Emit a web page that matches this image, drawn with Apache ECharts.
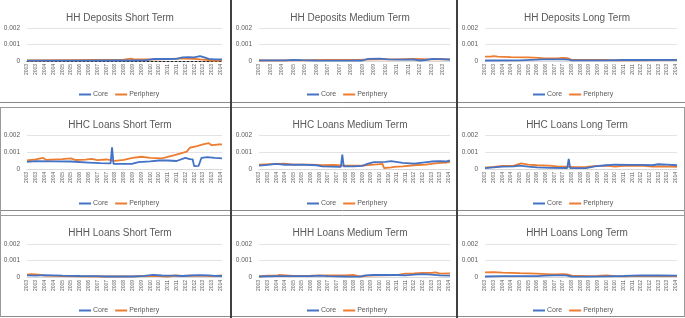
<!DOCTYPE html>
<html>
<head>
<meta charset="utf-8">
<script src="https://cdn.jsdelivr.net/npm/echarts@6/dist/echarts.min.js"></script>
<style>
  html, body { margin: 0; padding: 0; background: #fff; }
  #main { width: 685px; height: 318px; }
</style>
</head>
<body>
<div id="main"></div>
<script type="text/javascript">
    // values below are in units of 0.0001, as [month index from Jan 2003, value]
    var SCALE = 1e-4;

    var titles = [
        'HH Deposits Short Term', 'HH Deposits Medium Term', 'HH Deposits Long Term',
        'HHC Loans Short Term', 'HHC Loans Medium Term', 'HHC Loans Long Term',
        'HHH Loans Short Term', 'HHH Loans Medium Term', 'HHH Loans Long Term'
    ];

    // months Jan 2003 .. Feb 2014, shown as the year only
    var months = [];
    for (var y = 2003; y <= 2014; y++) {
        for (var m = 1; m <= 12; m++) {
            if (y === 2014 && m > 2) break;
            months.push(y + '-' + (m < 10 ? '0' + m : m));
        }
    }
    // every n-th month gets a label (Excel picked 6 for most panels, 8 for one)
    var labelStep = [6, 8, 6, 6, 6, 6, 6, 6, 6];

    var hhDepShortCore = [[0,0.2],[36,0.2],[60,0.3],[80,0.4],[86,1.2],[96,1.2],[102,1.3],[106,2.2],[110,2.4],[114,2.2],[118,3.0],[121,2.2],[124,1.3],[128,1.0],[133,1.0]];
    var hhDepShortPeri = [[0,0.3],[24,0.5],[48,0.7],[66,0.8],[71,1.4],[74,0.9],[84,0.9],[96,1.1],[102,1.5],[108,1.4],[114,1.3],[118,1.0],[124,0.6],[128,0.3],[133,0.4]];

    var hhDepMedCore = [[0,0.4],[18,0.4],[24,0.7],[30,0.5],[40,0.3],[60,0.2],[72,0.3],[76,1.3],[84,1.5],[90,1.0],[100,0.8],[108,0.9],[112,0.3],[116,0.6],[120,1.2],[126,1.1],[133,0.9]];
    var hhDepMedPeri = [[0,0.3],[24,0.4],[48,0.6],[72,0.8],[84,1.0],[96,1.0],[108,1.2],[120,1.0],[126,1.2],[133,0.8]];

    var hhDepLongCore = [[0,0.3],[24,0.4],[36,0.8],[40,1.0],[54,1.0],[58,0.8],[60,0.4],[84,0.4],[96,0.6],[108,0.6],[133,0.7]];
    var hhDepLongPeri = [[0,2.6],[4,2.7],[6,3.0],[9,2.6],[18,2.4],[30,2.2],[40,1.8],[50,1.6],[54,1.9],[57,1.7],[60,0.7],[72,0.6],[84,0.7],[90,0.4],[100,0.4],[108,0.4],[120,0.5],[133,0.6]];

    var hhcShortCore = [[0,4.2],[6,4.6],[18,4.5],[30,4.4],[42,3.8],[50,3.4],[57,3.3],[58,12.8],[59,3.0],[66,3.0],[72,3.1],[76,4.0],[84,4.5],[90,5.0],[96,5.0],[102,4.7],[108,6.5],[111,5.8],[113,5.6],[114,1.7],[117,1.8],[119,6.6],[123,7.0],[128,6.5],[133,6.2]];
    var hhcShortPeri = [[0,5.0],[6,5.6],[11,6.5],[13,5.4],[24,5.8],[30,6.3],[33,5.3],[40,5.5],[44,5.9],[48,5.2],[54,5.6],[60,4.8],[66,5.4],[72,6.5],[78,7.2],[84,6.6],[92,6.2],[100,8.0],[106,9.5],[109,10.2],[111,12.5],[116,13.5],[120,14.5],[124,15.2],[126,14.0],[130,14.4],[133,14.5]];

    var hhcMedCore = [[0,2.0],[6,2.4],[12,3.0],[18,2.5],[30,2.6],[40,2.2],[44,1.6],[57,1.3],[58,8.4],[59,1.5],[66,1.6],[72,1.8],[76,3.2],[80,4.0],[88,4.2],[92,4.6],[100,3.6],[108,3.2],[114,3.8],[120,4.4],[126,4.6],[130,4.4],[133,5.0]];
    var hhcMedPeri = [[0,2.6],[12,3.0],[18,3.2],[24,2.6],[36,2.6],[44,2.2],[52,2.4],[60,2.0],[72,2.0],[80,2.6],[86,3.0],[87,0.6],[92,1.0],[94,1.3],[100,1.6],[108,2.2],[116,2.6],[124,3.4],[130,3.8],[133,4.1]];

    var hhcLongCore = [[0,0.5],[6,1.0],[12,1.4],[20,1.6],[24,2.0],[30,1.4],[36,1.0],[46,0.7],[57,0.6],[58,6.0],[59,0.5],[70,0.5],[76,1.5],[84,2.2],[90,2.6],[100,2.4],[108,2.4],[116,2.2],[120,2.8],[126,2.6],[133,2.2]];
    var hhcLongPeri = [[0,0.8],[6,1.2],[12,1.8],[20,2.0],[25,3.3],[30,2.6],[36,2.2],[44,2.0],[50,1.6],[56,1.4],[62,1.1],[70,1.2],[78,1.8],[84,2.0],[90,1.4],[96,1.8],[104,2.0],[110,1.8],[116,1.4],[124,1.6],[133,1.3]];

    var hhhShortCore = [[0,1.0],[6,0.8],[12,1.1],[24,0.8],[36,0.6],[48,0.5],[54,0.3],[72,0.3],[80,0.7],[86,1.3],[92,0.9],[100,0.8],[106,0.6],[112,0.9],[118,1.1],[124,1.0],[128,0.7],[133,0.6]];
    var hhhShortPeri = [[0,1.5],[3,1.8],[8,1.5],[12,0.8],[24,0.6],[36,0.4],[48,0.3],[60,0.3],[72,0.4],[84,0.6],[90,0.5],[96,0.3],[101,0.9],[106,0.6],[112,0.8],[120,0.7],[126,0.5],[133,0.9]];

    var hhhMedCore = [[0,0.3],[12,0.5],[24,0.5],[36,0.5],[42,0.8],[48,0.5],[60,0.3],[70,0.2],[74,1.0],[80,1.2],[96,1.2],[102,1.0],[108,1.5],[114,1.8],[120,1.5],[126,1.0],[133,0.8]];
    var hhhMedPeri = [[0,0.3],[6,0.8],[12,0.8],[14,1.2],[24,0.7],[36,0.8],[48,1.0],[60,1.0],[66,1.2],[71,0.2],[76,0.8],[84,1.0],[96,1.2],[102,2.0],[108,2.2],[114,2.5],[120,2.5],[123,2.8],[126,2.0],[133,2.2]];

    var hhhLongCore = [[0,0.3],[12,0.5],[36,0.5],[42,0.8],[48,1.0],[56,1.0],[60,0.3],[72,0.2],[84,0.4],[96,0.6],[102,0.8],[108,1.0],[120,0.9],[133,0.8]];
    var hhhLongPeri = [[0,2.8],[6,3.0],[12,2.7],[18,2.5],[24,2.3],[30,2.2],[36,2.0],[42,1.8],[48,1.6],[54,1.8],[57,1.6],[60,0.8],[66,0.7],[72,0.5],[78,0.6],[84,0.9],[90,0.5],[96,0.4],[102,0.6],[108,0.5],[120,0.5],[133,0.6]];

    var coreData = [hhDepShortCore, hhDepMedCore, hhDepLongCore, hhcShortCore, hhcMedCore, hhcLongCore, hhhShortCore, hhhMedCore, hhhLongCore];
    var periData = [hhDepShortPeri, hhDepMedPeri, hhDepLongPeri, hhcShortPeri, hhcMedPeri, hhcLongPeri, hhhShortPeri, hhhMedPeri, hhhLongPeri];

    // layout of the 3x3 panels (pixels)
    var colX = [0, 231, 457];
    var gridLeft = [27, 259, 485];
    var gridWidth = [195, 191, 192];
    var titleCenter = [115, 345, 572];
    var gridTop = [28, 135, 244];
    var gridHeight = [33, 34, 33];
    var titleTop = [8, 115, 223];
    var legendTop = [86, 195, 302];

    var textColor = '#595959';
    var font = 'Liberation Sans, Arial, sans-serif';

    var scaled = function (arr) {
        return arr.map(function (p) { return [p[0], +(p[1] * SCALE).toFixed(7)]; });
    };

    var myChart = echarts.init(document.getElementById('main'), null, { renderer: 'canvas' });

    var grid = [], xAxis = [], yAxis = [], series = [], title = [], legend = [];
    for (var i = 0; i < 9; i++) {
        var r = Math.floor(i / 3), c = i % 3;
        grid.push({ left: gridLeft[c], top: gridTop[r], width: gridWidth[c], height: gridHeight[r] });
        title.push({
            text: titles[i], left: titleCenter[c], top: titleTop[r], textAlign: 'center',
            textStyle: { fontSize: 10, fontWeight: 'normal', color: textColor, fontFamily: font }
        });
        legend.push({
            data: ['Core', 'Periphery'], left: colX[c] + 74 - (c === 0 ? 0 : 3), top: legendTop[r],
            icon: 'rect', itemWidth: 12, itemHeight: 2, itemGap: 7,
            textStyle: { fontSize: 7, color: textColor, fontFamily: font, padding: [0, 0, 0, -3] }
        });
        xAxis.push({
            type: 'category', gridIndex: i, data: months, boundaryGap: false,
            axisTick: { show: false },
            axisLine: i === 0
                ? { lineStyle: { color: '#222', width: 1, type: [2, 2] } }
                : { lineStyle: { color: '#d9d9d9', width: 1 } },
            axisLabel: {
                interval: labelStep[i] - 1, rotate: 90, fontSize: 5, margin: 3,
                color: textColor, fontFamily: font,
                formatter: function (v) { return v.slice(0, 4); }
            }
        });
        yAxis.push({
            type: 'value', gridIndex: i, min: 0, max: 0.002, interval: 0.001,
            axisLine: { show: false }, axisTick: { show: false },
            splitLine: { lineStyle: { color: '#e3e3e3', width: 1 } },
            axisLabel: { fontSize: 6.5, color: textColor, fontFamily: font, margin: 7 }
        });
        series.push({
            name: 'Core', type: 'line', xAxisIndex: i, yAxisIndex: i,
            data: scaled(coreData[i]), showSymbol: false, z: 3,
            lineStyle: { width: 1.8, color: '#4472C4' }, itemStyle: { color: '#4472C4' }
        });
        series.push({
            name: 'Periphery', type: 'line', xAxisIndex: i, yAxisIndex: i,
            data: scaled(periData[i]), showSymbol: false, z: 2,
            lineStyle: { width: 1.8, color: '#ED7D31' }, itemStyle: { color: '#ED7D31' }
        });
    }

    // panel frames, as in the pasted Excel screenshots
    var hLine = function (y, color) {
        return { type: 'line', shape: { x1: 0, y1: y, x2: 685, y2: y }, style: { stroke: color, lineWidth: 1 }, silent: true };
    };
    var vLine = function (x, y1, y2, color, w) {
        return { type: 'line', shape: { x1: x, y1: y1, x2: x, y2: y2 }, style: { stroke: color, lineWidth: w }, silent: true };
    };
    var frames = [
        hLine(102.5, '#8a8a8a'), hLine(107.5, '#9a9a9a'),
        hLine(210.5, '#8a8a8a'), hLine(215.5, '#9a9a9a'), hLine(316.5, '#8a8a8a'),
        vLine(231, 0, 318, '#404040', 2), vLine(457, 0, 318, '#404040', 2),
        vLine(0.5, 107, 317, '#9a9a9a', 1), vLine(684.5, 107, 317, '#9a9a9a', 1)
    ];

    var option = {
        animation: false,
        backgroundColor: '#ffffff',
        title: title,
        legend: legend,
        grid: grid,
        xAxis: xAxis,
        yAxis: yAxis,
        series: series,
        graphic: frames
    };
    myChart.setOption(option, true);
</script>
</body>
</html>
